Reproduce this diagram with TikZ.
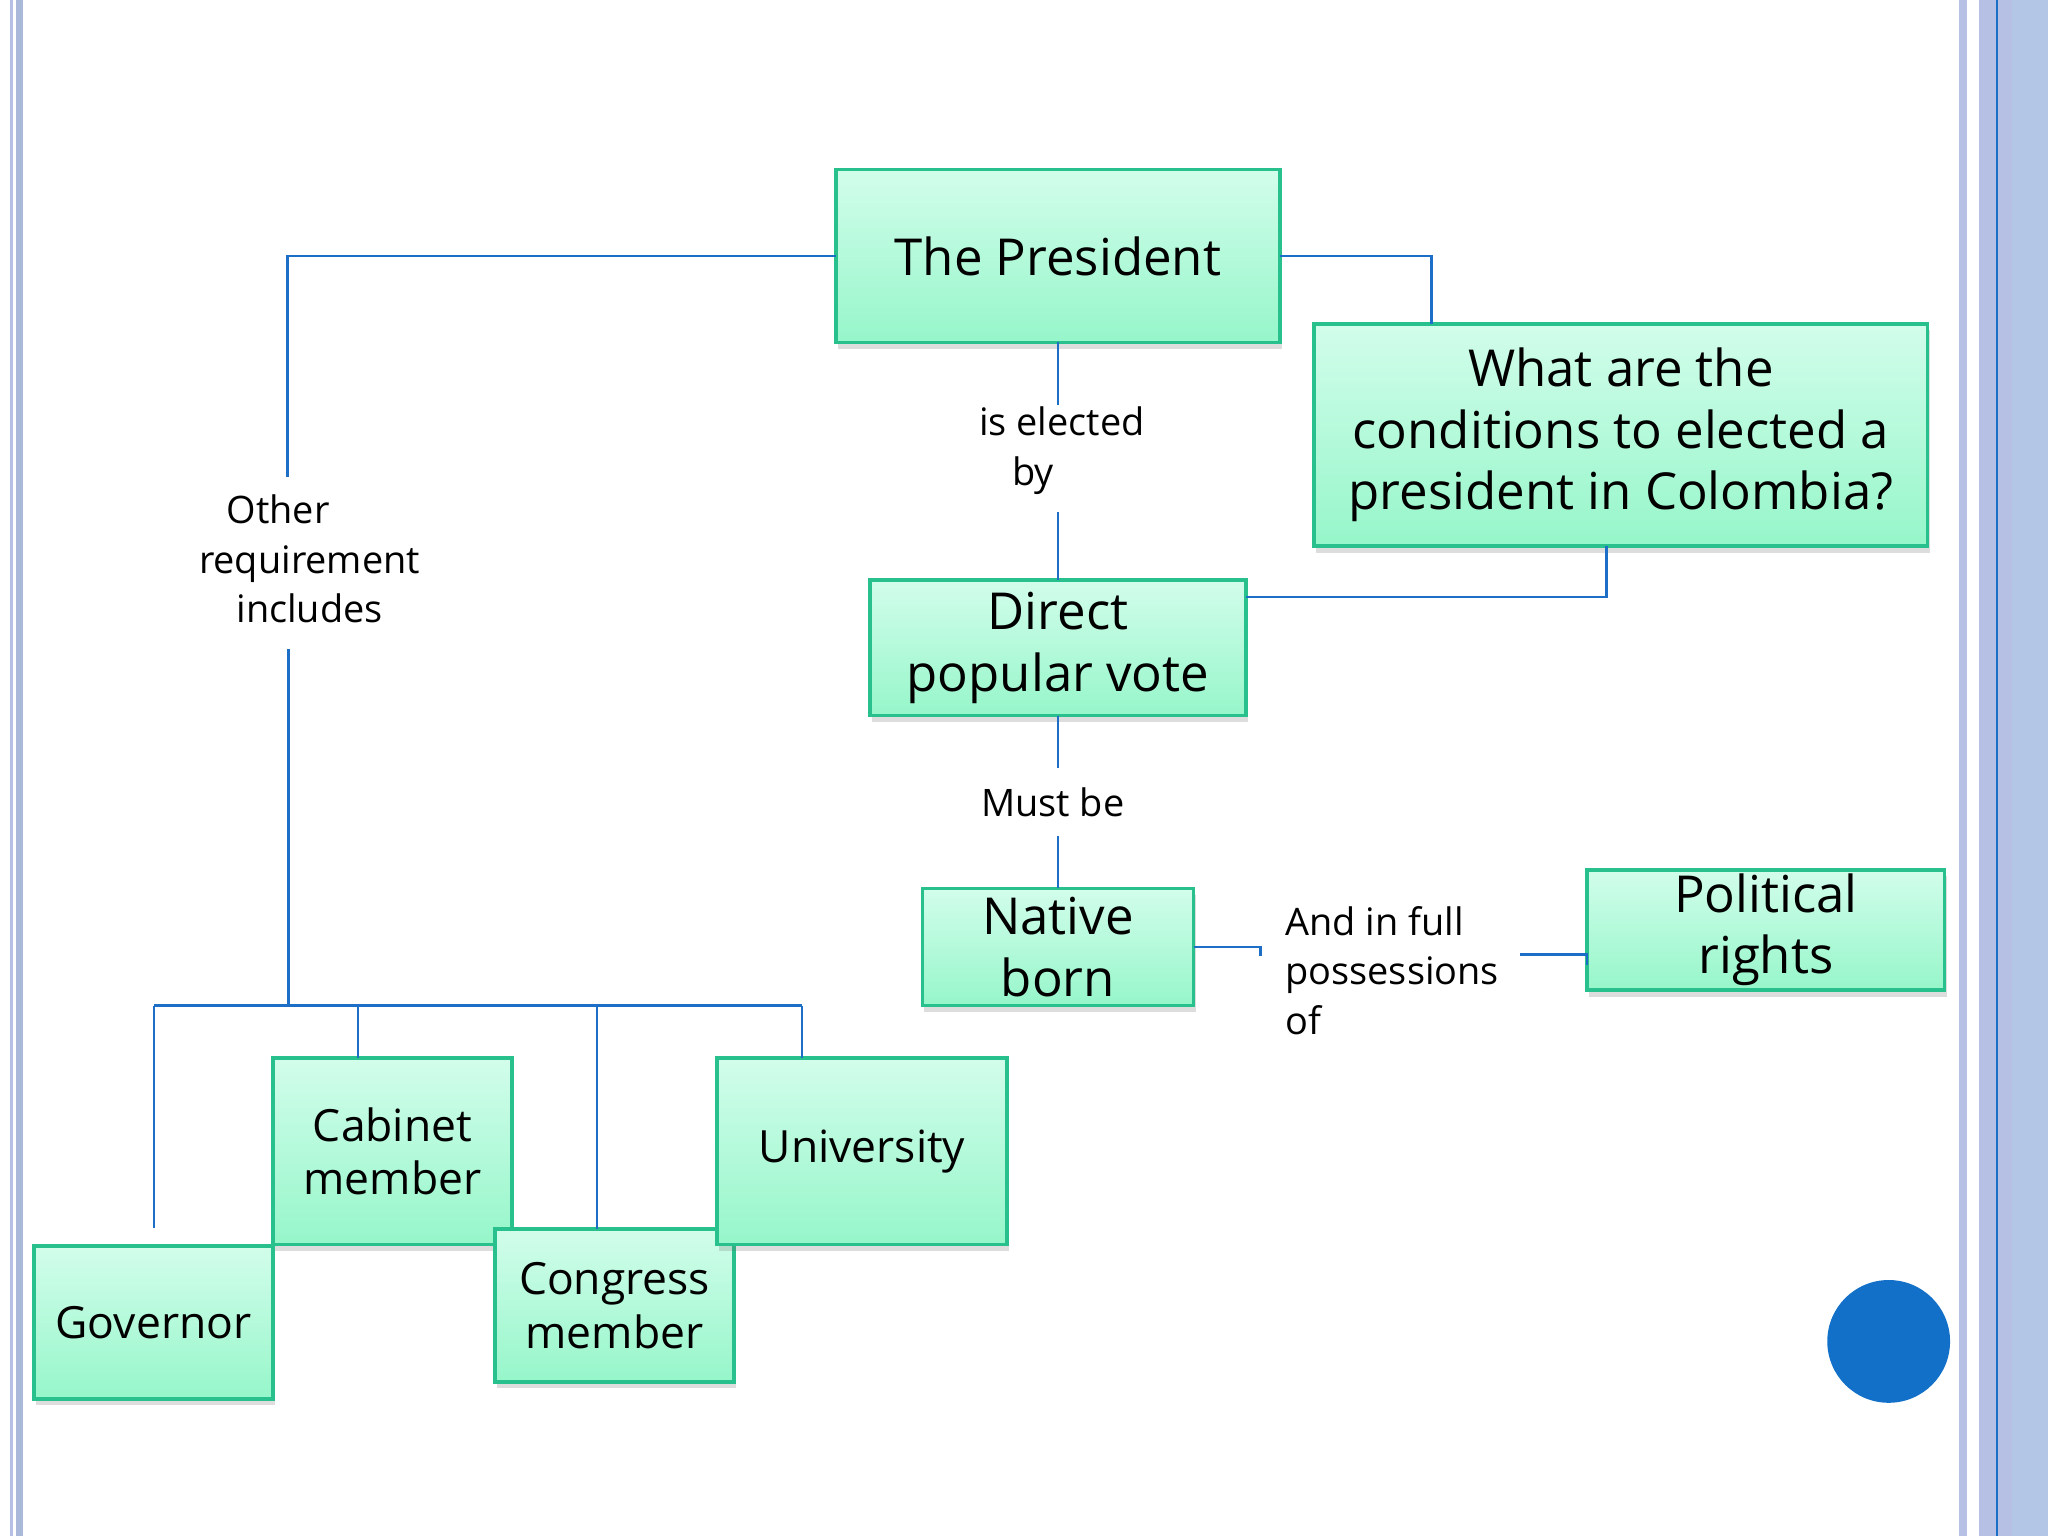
\documentclass[tikz,border=0pt]{standalone}
\usepackage{fontspec}
\setmainfont{Open Sans}
\usetikzlibrary{shadows}

\definecolor{linkblue}{RGB}{28,110,198}
\definecolor{boxedge}{RGB}{40,192,140}
\definecolor{boxtop}{RGB}{210,253,235}
\definecolor{boxbot}{RGB}{150,246,202}
\definecolor{bandlight}{RGB}{182,192,228}
\definecolor{bandmid}{RGB}{170,184,218}
\definecolor{bandright}{RGB}{180,198,230}
\definecolor{dotblue}{RGB}{18,112,200}

\tikzset{
	concept/.style={draw=boxedge, line width=2.5pt, top color=boxtop, bottom color=boxbot,
		inner sep=0pt, outer sep=0pt, align=center, font=\fontsize{39}{47}\selectfont,
		drop shadow={shadow xshift=1.5pt, shadow yshift=-5pt, opacity=0.22, fill=black!60}},
	small concept/.style={concept, font=\fontsize{34}{41}\selectfont},
	link/.style={draw=linkblue, line width=2pt},
	linklabel/.style={align=center, font=\fontsize{29}{38}\selectfont, inner sep=0pt},
}

\begin{document}
\begin{tikzpicture}[x=1pt, y=-1pt]
			%%%%% START %%%%%
			\useasboundingbox (0,0) rectangle (1568,1176);
			
			% page borders
			\fill[bandlight] (7.7,0) rectangle (9.7,1176);
			\fill[bandmid] (12.2,0) rectangle (17.9,1176);
			\fill[bandlight] (1499.5,0) rectangle (1506,1176);
			\fill[bandlight] (1515.5,0) rectangle (1540.3,1176);
			\fill[bandright] (1540.3,0) rectangle (1568,1176);
			\fill[linkblue] (1528.3,0) rectangle (1530,1176);
			
			% concepts
			\node[concept, minimum width=340pt, minimum height=132pt] (pres) at (810,196) {The President};
			\node[concept, minimum width=470pt, minimum height=170pt] (quest) at (1241,333) {What are the\\conditions to elected a\\president in Colombia?};
			\node[concept, minimum width=288pt, minimum height=104pt] (direct) at (810,496) {Direct\\popular vote};
			\node[concept, minimum width=208pt, minimum height=90pt] (native) at (810,725) {Native\\born};
			\node[concept, minimum width=274pt, minimum height=92pt] (polit) at (1352,712) {Political\\rights};
			
			\node[small concept, minimum width=183pt, minimum height=117pt] (gov) at (117.5,1012.5) {Governor};
			\node[small concept, minimum width=183pt, minimum height=143pt] (cabinet) at (300.5,881.5) {Cabinet\\member};
			\node[small concept, minimum width=183pt, minimum height=117pt] (congress) at (470.5,999.5) {Congress\\member};
			\node[small concept, minimum width=222pt, minimum height=143pt] (univ) at (660,881.5) {University};
			
			% link labels
			\node[linklabel] (othlbl) at (237,428) {Other\rule{48pt}{0pt}\\requirement\\includes};
			\node[linklabel] (eleclbl) at (813,345) {is elected\\by\rule{44pt}{0pt}};
			\node[linklabel] (mustlbl) at (806,614) {Must be};
			\node[linklabel, anchor=west, align=left] (fulllbl) at (984,743) {And in full\\possessions\\of};
			
			% free ends
			\coordinate (othtop) at (220,365);
			\coordinate (othbot) at (221,497);
			\coordinate (busmid) at (221,770);
			\coordinate (busL) at (118,770);
			\coordinate (busR) at (614,770);
			\coordinate (govtop) at (118,940);
			\coordinate (cabx) at (274,770);
			\coordinate (conx) at (457,770);
			\coordinate (elecA) at (810,310);
			\coordinate (elecB) at (810,392);
			\coordinate (mustA) at (810,588);
			\coordinate (mustB) at (810,640);
			\coordinate (fullA) at (965,732);
			\coordinate (fullB) at (1164,731);
			\coordinate (fullC) at (polit.west |- 0,739);
			
			% links
			\draw[link] (pres.west) -| (othtop);
			\draw[link] (othbot) -- (busmid);
			\draw[link] (busL) -- (busR);
			\draw[link] (busL) -- (govtop);
			\draw[link] (cabx) -- (cabx |- cabinet.north);
			\draw[link] (conx) -- (conx |- congress.north);
			\draw[link] (busR) -- (busR |- univ.north);
			
			\draw[link] (pres.east) -| ([xshift=90pt]quest.north west);
			\draw[link] (pres.south) -- (elecA);
			\draw[link] (elecB) -- (direct.north);
			\draw[link] ([xshift=-11pt]quest.south) |- ([yshift=39pt]direct.east);
			\draw[link] (direct.south) -- (mustA);
			\draw[link] (mustB) -- (native.north);
			\draw[link] (native.east) -| (fullA);
			\draw[link] (fullB) -| (fullC);
			
			\fill[dotblue] (1446,1027) circle (47pt);
			%%%%% END %%%%%
\end{tikzpicture}
\end{document}
